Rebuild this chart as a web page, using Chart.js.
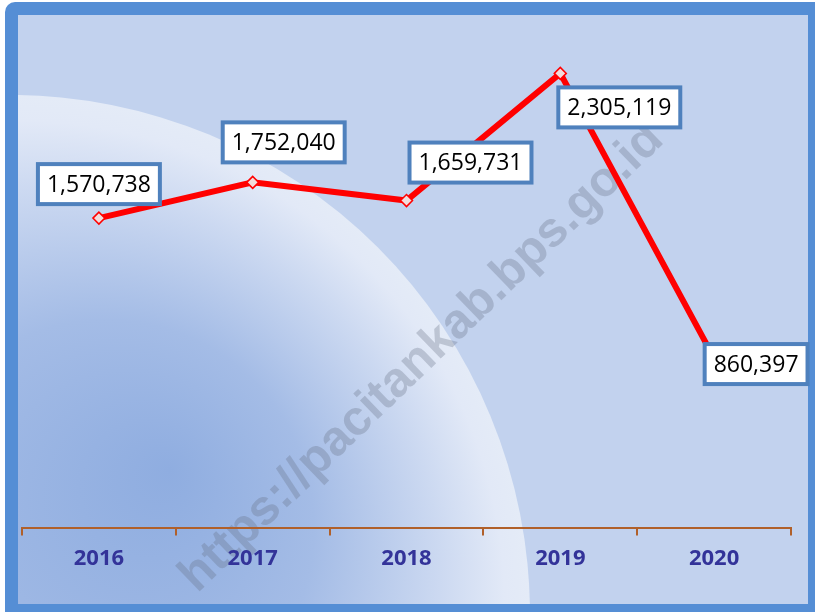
<!DOCTYPE html>
<html>

<head>
  <title>Pacitan line chart</title>
  <script src="https://cdn.jsdelivr.net/npm/chart.js"></script>
  <style>
    body { margin: 0; background: #ffffff; }
    canvas { display: block; }
  </style>
</head>

<body>
  <canvas id="myChart" width="815" height="612"></canvas>
  <script>
    var years = ['2016', '2017', '2018', '2019', '2020'];
    var values = [1570738, 1752040, 1659731, 2305119, 860397];

    // background frame, glow arc and watermark, drawn under the chart
    var backdrop = {
      id: 'backdrop',
      beforeDraw: function (chart) {
        var ctx = chart.ctx;
        ctx.save();
        ctx.fillStyle = '#ffffff';
        ctx.fillRect(0, 0, 815, 612);
        ctx.fillStyle = '#558ED5';
        ctx.beginPath();
        ctx.roundRect(5, 2, 820, 620, 10);
        ctx.fill();
        ctx.fillStyle = '#C2D2EE';
        ctx.fillRect(18, 15, 790, 589);

        ctx.beginPath();
        ctx.rect(18, 15, 790, 589);
        ctx.clip();
        ctx.beginPath();
        ctx.arc(10, 615, 520, 0, Math.PI * 2);
        ctx.clip();
        var g = ctx.createRadialGradient(170, 470, 0, 10, 615, 520);
        g.addColorStop(0, '#8FADE0');
        g.addColorStop(0.4, '#A4BCE6');
        g.addColorStop(0.75, '#CCD9F1');
        g.addColorStop(0.93, '#E2E9F7');
        g.addColorStop(1, '#E4EBF7');
        ctx.fillStyle = g;
        ctx.fillRect(18, 15, 790, 589);
        ctx.restore();

        ctx.save();
        ctx.translate(422, 358);
        ctx.rotate(-44 * Math.PI / 180);
        ctx.font = 'bold 49px "Liberation Sans", Arial, sans-serif';
        ctx.textAlign = 'center';
        ctx.textBaseline = 'middle';
        ctx.fillStyle = 'rgba(100, 110, 130, 0.3)';
        ctx.fillText('https://pacitankab.bps.go.id', 0, 0);
        ctx.restore();
      }
    };

    // boxed value labels
    var boxLabels = {
      id: 'boxLabels',
      afterDatasetsDraw: function (chart) {
        var shift = [[0, -34], [31, -40], [64, -38], [59, 34], [42, 6]];
        var ctx = chart.ctx;
        var pts = chart.getDatasetMeta(0).data;
        ctx.save();
        ctx.font = '23px "Open Sans", sans-serif';
        ctx.textAlign = 'center';
        ctx.textBaseline = 'middle';
        pts.forEach(function (p, i) {
          var txt = values[i].toLocaleString('en-US');
          var w = ctx.measureText(txt).width + 18;
          var h = 40;
          var cx = p.x + shift[i][0];
          var cy = p.y + shift[i][1];
          ctx.fillStyle = '#ffffff';
          ctx.fillRect(cx - w / 2, cy - h / 2, w, h);
          ctx.strokeStyle = '#4F81BD';
          ctx.lineWidth = 4;
          ctx.strokeRect(cx - w / 2, cy - h / 2, w, h);
          ctx.fillStyle = '#000000';
          ctx.fillText(txt, cx, cy + 1);
        });
        ctx.restore();
      }
    };

    var ctx = document.getElementById('myChart').getContext('2d');
    var myChart = new Chart(ctx, {
      type: 'line',
      data: {
        labels: years,
        datasets: [{
          data: values,
          borderColor: '#FF0000',
          borderWidth: 6,
          pointStyle: 'rectRot',
          pointRadius: 6,
          pointBackgroundColor: '#F2DCDB',
          pointBorderColor: '#FF0000',
          pointBorderWidth: 1.5,
          tension: 0,
          clip: false
        }]
      },
      options: {
        responsive: false,
        animation: false,
        devicePixelRatio: 1,
        layout: { padding: { left: 22, right: 24, top: 35, bottom: 30 } },
        plugins: {
          legend: { display: false },
          tooltip: { enabled: false }
        },
        scales: {
          x: {
            offset: true,
            grid: {
              offset: true,
              drawOnChartArea: false,
              drawTicks: true,
              tickLength: 8,
              color: '#B0602A',
              lineWidth: 2
            },
            border: { display: true, color: '#B0602A', width: 2 },
            ticks: {
              padding: 10,
              color: '#333399',
              font: { family: '"Open Sans", sans-serif', size: 22, weight: 'bold' }
            }
          },
          y: {
            display: false,
            min: 0,
            max: 2500000
          }
        }
      },
      plugins: [backdrop, boxLabels]
    });
  </script>
</body>

</html>
